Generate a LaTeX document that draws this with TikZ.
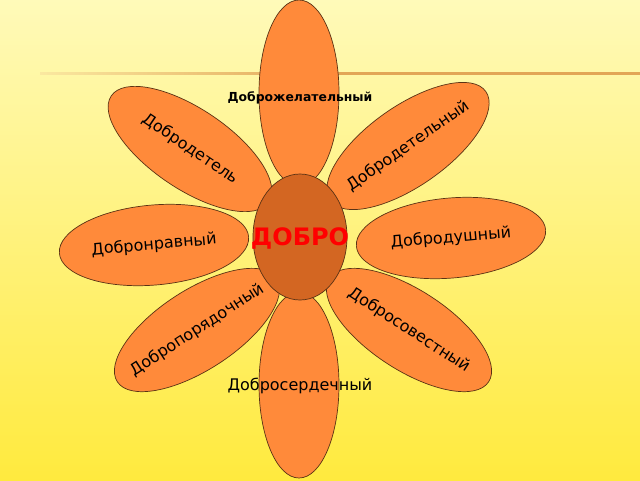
\documentclass[tikz,border=0pt]{standalone}
\usepackage{fontspec}
\setmainfont{DejaVu Sans}
\usetikzlibrary{shapes.geometric}
\definecolor{bgtop}{RGB}{255,250,185}
\definecolor{bgbot}{RGB}{255,234,62}
\definecolor{petalfill}{RGB}{255,138,58}
\definecolor{corefill}{RGB}{211,102,34}
\definecolor{edge}{RGB}{90,50,20}
\definecolor{rule}{RGB}{226,166,86}
\definecolor{ruleend}{RGB}{250,232,160}
\tikzset{
  petal/.style={ellipse, draw=edge, line width=0.7pt, fill=petalfill, inner sep=0pt,
    minimum width=190pt, minimum height=80pt},
  vpetal/.style={ellipse, draw=edge, line width=0.7pt, fill=petalfill, inner sep=0pt,
    minimum width=80pt, minimum height=186pt},
  plabel/.style={font=\fontsize{16}{18}\selectfont, text=black, inner sep=0pt},
  core/.style={ellipse, draw=edge, line width=0.7pt, fill=corefill, inner sep=0pt,
    minimum width=94pt, minimum height=126pt},
  corelabel/.style={font=\bfseries\fontsize{24}{28}\selectfont, text=red, inner sep=0pt}
}
\begin{document}
\begin{tikzpicture}[x=1pt,y=-1pt]
\useasboundingbox (0,0) rectangle (640,480);
\shade[top color=bgtop, bottom color=bgbot] (0,0) rectangle (640,480);
\shade[left color=ruleend, right color=rule, middle color=rule] (40,72.5) rectangle (640,74.5);
% diagonal and side petals
\node[petal, rotate=-34] (p1) at (190,149) {};
\node[petal, rotate=35] (p2) at (408,146) {};
\node[petal, rotate=5] (p3) at (154,245) {};
\node[petal, rotate=5] (p4) at (451,238) {};
\node[petal, rotate=33] (p5) at (197,330) {};
\node[petal, rotate=-33] (p6) at (409,330) {};
\node[plabel, rotate=-34] (t1) at (p1.center) {Добродетель};
\node[plabel, rotate=35] (t2) at (p2.center) {Добродетельный};
\node[plabel, rotate=5] (t3) at (p3.center) {Добронравный};
\node[plabel, rotate=5] (t4) at (p4.center) {Добродушный};
\node[plabel, rotate=33] (t5) at (p5.center) {Добропорядочный};
\node[plabel, rotate=-33] (t6) at (p6.center) {Добросовестный};
% vertical petals
\node[vpetal] (p0) at (299,93) {};
\node[vpetal] (p7) at (299,385) {};
\node[plabel, font=\fontsize{12.4}{14}\selectfont\bfseries] (t0) at (300,98) {Доброжелательный};
\node[plabel] (t7) at (300,386) {Добросердечный};
% centre
\node[core] (c) at (300,237) {};
\node[corelabel] (ct) at (300,238) {ДОБРО};
\end{tikzpicture}
\end{document}
